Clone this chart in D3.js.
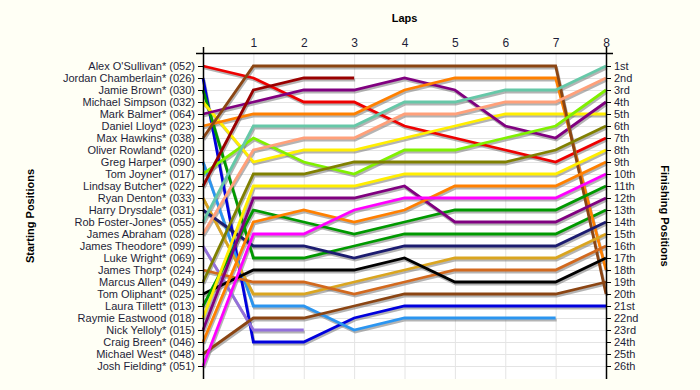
<!DOCTYPE html>
<html lang="en">
	<head>
		<meta charset="utf-8">
		<title>D3: Lap Chart</title>
		<script type="text/javascript" src="https://cdn.jsdelivr.net/npm/d3@7"></script>
		<style type="text/css">

		body {
			margin: 0;
			background: #fffff5;
		}

		text {
			font-family: "Liberation Sans", Arial, sans-serif;
			font-size: 11px;
			fill: #1e1e38;
		}

		.title {
			font-weight: bold;
			fill: #000;
		}

		.grid line {
			stroke: #e4e4e4;
			stroke-width: 1;
		}

		</style>
	</head>
	<body>

		<script type="text/javascript">

		//Width and height
		var w = 700;
		var h = 390;

		//Grid order (starting positions)
		var drivers = [
			"Alex O'Sullivan* (052)", "Jordan Chamberlain* (026)", "Jamie Brown* (030)",
			"Michael Simpson (032)", "Mark Balmer* (064)", "Daniel Lloyd* (023)",
			"Max Hawkins* (038)", "Oliver Rowland* (020)", "Greg Harper* (090)",
			"Tom Joyner* (017)", "Lindsay Butcher* (022)", "Ryan Denton* (033)",
			"Harry Drysdale* (031)", "Rob Foster-Jones* (055)", "James Abraham (028)",
			"James Theodore* (099)", "Luke Wright* (069)", "James Thorp* (024)",
			"Marcus Allen* (049)", "Tom Oliphant* (025)", "Laura Tillett* (013)",
			"Raymie Eastwood (018)", "Nick Yelloly* (015)", "Craig Breen* (046)",
			"Michael West* (048)", "Josh Fielding* (051)"
		];

		var finishLabels = ["1st", "2nd", "3rd", "4th", "5th", "6th", "7th", "8th", "9th", "10th",
			"11th", "12th", "13th", "14th", "15th", "16th", "17th", "18th", "19th", "20th",
			"21st", "22nd", "23rd", "24th", "25th", "26th"];

		var laps = [1, 2, 3, 4, 5, 6, 7, 8];

		//Position at lap 0 (grid) .. lap 8, same order as drivers; empty = no start
		var lapPositions = [
			[1, 2, 4, 4, 6, 7, 8, 9, 7],
			[2, 24, 24, 22, 21, 21, 21, 21, 21],
			[3, 17, 17, 16, 15, 15, 15, 15, 13],
			[4, 9, 8, 8, 7, 6, 5, 5, 5],
			[5, 4, 3, 3, 2, 3, 6, 7, 4],
			[6, 5, 5, 5, 3, 2, 2, 2, 18],
			[7, 1, 1, 1, 1, 1, 1, 1, 20],
			[],
			[9, 21, 21, 23, 22, 22, 22, 22],
			[10, 7, 9, 10, 8, 8, 7, 6, 3],
			[11, 3, 2, 2],
			[12, 20, 20, 19, 18, 17, 17, 17, 15],
			[13, 16, 16, 17, 16, 16, 16, 16, 14],
			[14, 6, 6, 6, 4, 4, 3, 3, 1],
			[15, 8, 7, 7, 5, 5, 4, 4, 2],
			[16, 23, 23],
			[],
			[18, 19, 19, 20, 19, 18, 18, 18, 16],
			[19, 10, 10, 9, 9, 9, 9, 8, 6],
			[20, 18, 18, 18, 17, 19, 19, 19, 17],
			[21, 13, 14, 15, 14, 13, 13, 13, 11],
			[22, 11, 11, 11, 10, 10, 10, 10, 8],
			[23, 12, 12, 12, 11, 14, 14, 14, 12],
			[24, 14, 13, 14, 13, 11, 11, 11, 9],
			[25, 22, 22, 21, 20, 20, 20, 20, 19],
			[26, 15, 15, 13, 12, 12, 12, 12, 10]
		];

		//Line colours, same order as drivers
		var colors = [
			"#ee0000", "#0000dd", "#009900", "#ffee00", "#800080", "#ff8000",
			"#8b4513", "none", "#2b95f0", "#80f000", "#990000", "#daa520",
			"#1c1c70", "#66c8a8", "#ffa07a", "#9370db", "none", "#d2691e",
			"#808000", "#000000", "#009900", "#ffee00", "#800080", "#ff8000",
			"#8b4513", "#ff00ff"
		];

		//Plot box (note: "top" is reserved on window, so use plot* names)
		var plotLeft = 203, plotRight = 606, plotTop = 53, plotBottom = 379;

		//Scales
		var xScale = d3.scaleLinear()
						.domain([0, 8])
						.range([plotLeft, plotRight]);

		var yScale = d3.scaleLinear()
						.domain([1, 26])
						.range([66, 366]);

		var positions = d3.range(1, 27);

		//Create SVG element
		var svg = d3.select("body")
					.append("svg")
					.attr("width", w)
					.attr("height", h);

		//Plot background
		svg.append("rect")
			.attr("x", plotLeft)
			.attr("y", plotTop)
			.attr("width", plotRight - plotLeft)
			.attr("height", plotBottom - plotTop)
			.attr("fill", "#ffffff");

		//Grid
		var grid = svg.append("g").attr("class", "grid");

		grid.selectAll(".h")
			.data(positions)
			.enter()
			.append("line")
			.attr("x1", plotLeft)
			.attr("x2", plotRight)
			.attr("y1", function(d) { return yScale(d) + 0.5; })
			.attr("y2", function(d) { return yScale(d) + 0.5; });

		grid.selectAll(".v")
			.data(laps.slice(0, 7))
			.enter()
			.append("line")
			.attr("x1", function(d) { return xScale(d) + 0.5; })
			.attr("x2", function(d) { return xScale(d) + 0.5; })
			.attr("y1", plotTop)
			.attr("y2", plotBottom);

		//Line generator
		var line = d3.line()
					.x(function(d, i) { return xScale(i); })
					.y(function(d) { return yScale(d); });

		var runners = lapPositions
						.map(function(p, i) { return { name: drivers[i], pos: p, color: colors[i] }; })
						.filter(function(d) { return d.pos.length > 0; });

		//Shadows first
		svg.append("g")
			.attr("transform", "translate(1,2)")
			.selectAll("path")
			.data(runners)
			.enter()
			.append("path")
			.attr("d", function(d) { return line(d.pos); })
			.attr("fill", "none")
			.attr("stroke", "#777")
			.attr("stroke-opacity", 0.55)
			.attr("stroke-width", 2.8);

		svg.append("g")
			.selectAll("path")
			.data(runners)
			.enter()
			.append("path")
			.attr("d", function(d) { return line(d.pos); })
			.attr("fill", "none")
			.attr("stroke", function(d) { return d.color; })
			.attr("stroke-width", 2.8)
			.append("title")
			.text(function(d) { return d.name; });

		//Axes
		var yAxis = d3.axisLeft(yScale)
						.tickValues(positions)
						.tickSize(5)
						.tickSizeOuter(0)
						.tickFormat(function(d) { return drivers[d - 1]; });

		var yAxisRight = d3.axisRight(yScale)
						.tickValues(positions)
						.tickSize(5)
						.tickSizeOuter(0)
						.tickFormat(function(d) { return finishLabels[d - 1]; });

		var xAxis = d3.axisTop(xScale)
						.tickValues(laps)
						.tickSize(0)
						.tickPadding(6)
						.tickFormat(d3.format("d"));

		var gx = svg.append("g")
			.attr("transform", "translate(0," + plotTop + ")")
			.call(xAxis);
		gx.select(".domain").remove();
		gx.selectAll("text").style("font-size", "12px");

		svg.append("g")
			.attr("transform", "translate(" + plotLeft + ",0)")
			.call(yAxis)
			.select(".domain").remove();

		svg.append("g")
			.attr("transform", "translate(" + plotRight + ",0)")
			.call(yAxisRight)
			.select(".domain").remove();

		//Frame lines
		svg.append("line")
			.attr("x1", plotLeft - 7).attr("x2", plotRight + 7)
			.attr("y1", plotTop + 0.5).attr("y2", plotTop + 0.5)
			.attr("stroke", "#000").attr("stroke-width", 1.5);

		svg.selectAll(".frame")
			.data([plotLeft, plotRight])
			.enter()
			.append("line")
			.attr("x1", function(d) { return d + 0.5; })
			.attr("x2", function(d) { return d + 0.5; })
			.attr("y1", plotTop - 6)
			.attr("y2", plotBottom)
			.attr("stroke", "#000")
			.attr("stroke-width", 1.5);

		//Titles
		svg.append("text")
			.attr("class", "title")
			.attr("x", (plotLeft + plotRight) / 2)
			.attr("y", 22)
			.attr("text-anchor", "middle")
			.text("Laps");

		svg.append("text")
			.attr("class", "title")
			.attr("text-anchor", "middle")
			.attr("transform", "translate(34," + (plotTop + plotBottom) / 2 + ") rotate(-90)")
			.text("Starting Positions");

		svg.append("text")
			.attr("class", "title")
			.attr("text-anchor", "middle")
			.attr("transform", "translate(661," + (plotTop + plotBottom) / 2 + ") rotate(90)")
			.text("Finishing Positions");

		</script>
	</body>
</html>
